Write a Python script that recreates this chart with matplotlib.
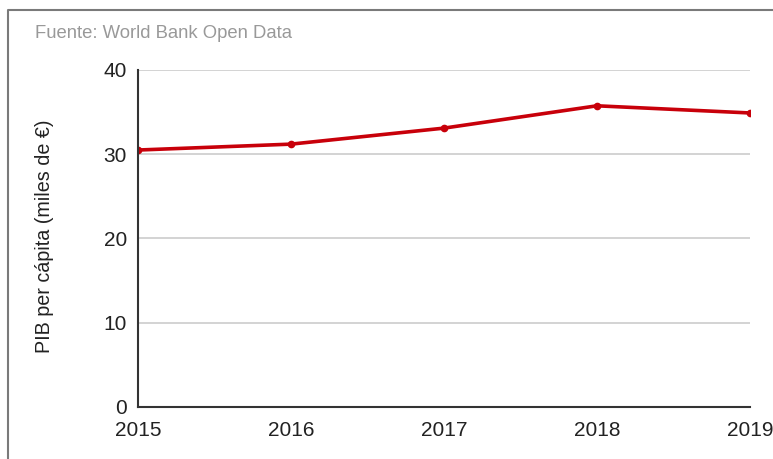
import matplotlib.pyplot as plt
from matplotlib.lines import Line2D

plt.rcParams['font.family'] = ['Liberation Sans', 'DejaVu Sans']

# GDP per capita, thousands of euros
years = [2015, 2016, 2017, 2018, 2019]
gdp_per_capita = [30.5, 31.2, 33.1, 35.75, 34.9]
y_ticks = [0, 10, 20, 30, 40]

fig = plt.figure(figsize=(7.73, 4.59), dpi=100)
ax = fig.add_axes([0.1785, 0.1133, 0.7917, 0.7342])

ax.plot(years, gdp_per_capita, color='#c8000a', linewidth=2.6,
        marker='o', markersize=4.5, solid_capstyle='round')

ax.set_xlim(2015, 2019)
ax.set_ylim(0, 40)
ax.set_xticks(years)
ax.set_yticks(y_ticks)
ax.grid(axis='y', color='#cccccc', linewidth=1.2)
ax.set_axisbelow(True)
ax.tick_params(length=0, labelsize=15, colors='#222222')
ax.tick_params(axis='x', pad=10)
ax.tick_params(axis='y', pad=8)

for side in ['top', 'right']:
    ax.spines[side].set_visible(False)
for side in ['left', 'bottom']:
    ax.spines[side].set_color('#333333')
    ax.spines[side].set_linewidth(1.5)

ax.set_ylabel('PIB per cápita (miles de €)', fontsize=14.2, color='#222222')
ax.yaxis.set_label_coords(-0.138, 0.507)

fig.text(35 / 773, 1 - 33 / 459, 'Fuente: World Bank Open Data',
         fontsize=13.3, color='#999999', va='center', ha='left')

# frame line on the left and top
bx = 8 / 773
by = 1 - 10 / 459
fig.add_artist(Line2D([bx, bx, 1], [0, by, by], transform=fig.transFigure,
                      color='#7a7a7a', linewidth=1.5))

plt.savefig('out.png', dpi=100)
